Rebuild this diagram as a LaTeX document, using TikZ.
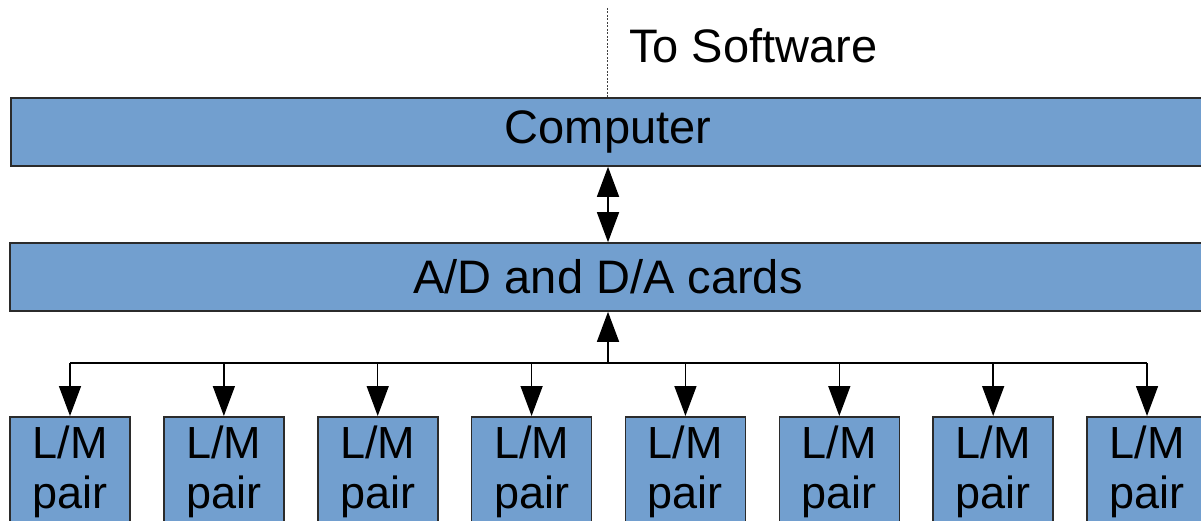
\documentclass[tikz,border=0pt]{standalone}
\usepackage{fontspec}
\setmainfont{Liberation Sans}
\usetikzlibrary{arrows.meta}
\definecolor{boxblue}{HTML}{729FCF}
\definecolor{edgecol}{HTML}{2B2B2B}
\begin{document}
\begin{tikzpicture}[x=1pt,y=-1pt,
  bar/.style={draw=edgecol, line width=1.6pt, fill=boxblue, inner sep=0pt,
    font=\fontsize{47}{50}\selectfont},
  lmbox/.style={draw=edgecol, line width=1.6pt, fill=boxblue, anchor=north,
    minimum width=120pt, inner xsep=0pt, inner ysep=9pt, align=center,
    font=\fontsize{45}{50}\selectfont},
  conn/.style={draw=black, line width=1.5pt},
  tip/.style={-{Triangle[length=30pt,width=22pt]}},
  dtip/.style={{Triangle[length=30pt,width=22pt]}-{Triangle[length=30pt,width=22pt]}}
]
\useasboundingbox (0,0) rectangle (1201,521);
\clip (0,0) rectangle (1201,521);
\fill[white] (0,0) rectangle (1201,521);

\node[bar, minimum width=1194pt, minimum height=68pt] (comp) at (608,132) {Computer};
\node[bar, minimum width=1196pt, minimum height=68pt] (ad) at (608,277) {A/D and D/A cards};

\coordinate (sw) at (607,8);
\draw[line width=1pt, draw=black!75, dash pattern=on 2pt off 1.5pt] (sw) -- (sw |- comp.north);
\node[anchor=base west, inner sep=0pt, font=\fontsize{47}{50}\selectfont] (tosw) at (629,63) {To Software};

\draw[conn, dtip] (comp.south) -- (ad.north);

\coordinate (bus) at (608,363);
\draw[conn, tip] (bus) -- (ad.south);

\foreach \i in {1,...,8} {
  \node[lmbox] (lm\i) at ({70+(\i-1)*153.86},416) {L/M\\pair};
}
\draw[conn] (lm1.north |- bus) -- (lm8.north |- bus);
\foreach \i in {1,...,8} {
  \draw[conn, tip] (lm\i.north |- bus) -- (lm\i.north);
}
\end{tikzpicture}
\end{document}
